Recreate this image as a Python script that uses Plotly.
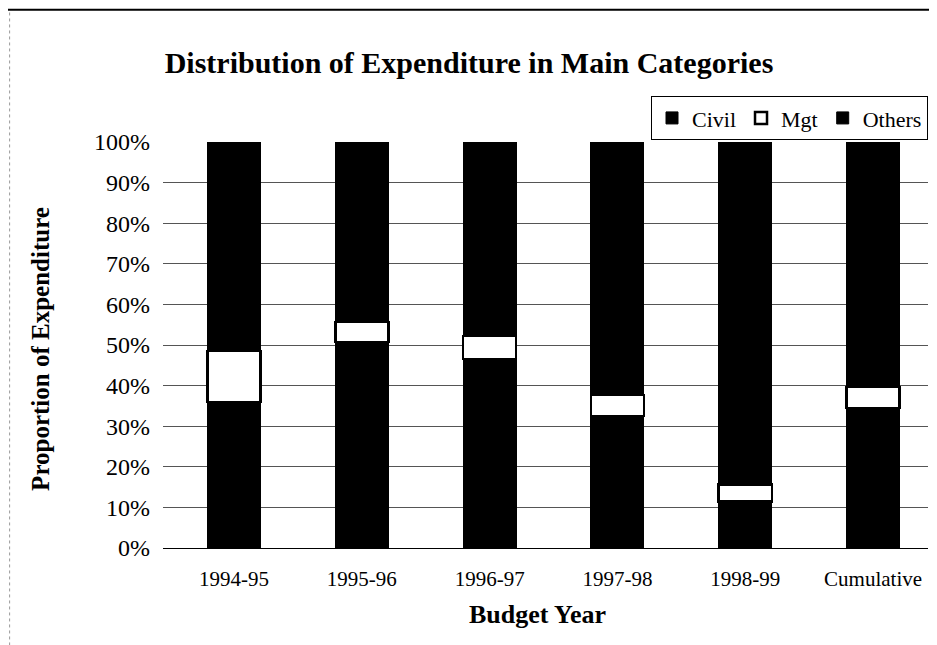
import plotly.graph_objects as go

categories = ["1994-95", "1995-96", "1996-97", "1997-98", "1998-99", "Cumulative"]
civil = [0.360, 0.507, 0.466, 0.325, 0.114, 0.345]
mgt = [0.125, 0.050, 0.056, 0.052, 0.043, 0.052]
others = [0.515, 0.443, 0.478, 0.623, 0.843, 0.603]
y_ticks = [0, 0.1, 0.2, 0.3, 0.4, 0.5, 0.6, 0.7, 0.8, 0.9, 1.0]
y_tick_labels = ["0%", "10%", "20%", "30%", "40%", "50%", "60%", "70%", "80%", "90%", "100%"]

serif = "Liberation Serif, Times New Roman, serif"

fig = go.Figure()
fig.add_trace(go.Bar(name="Civil", x=categories, y=civil, width=0.415,
                     marker=dict(color="black", line=dict(color="black", width=1))))
fig.add_trace(go.Bar(name="Mgt", x=categories, y=mgt, width=0.415,
                     marker=dict(color="white", line=dict(color="black", width=2.5))))
fig.add_trace(go.Bar(name="Others", x=categories, y=others, width=0.415,
                     marker=dict(color="black", line=dict(color="black", width=1))))

# page body has an 8px default margin, so margins are compensated
fig.update_layout(
    barmode="stack",
    width=937, height=645,
    paper_bgcolor="white", plot_bgcolor="white",
    margin=dict(l=155, r=17, t=134, b=105),
    title=dict(text="<b>Distribution of Expenditure in Main Categories</b>",
               font=dict(family=serif, size=30, color="black"),
               x=0.492, xref="container", xanchor="center", y=0.916, yref="container", yanchor="middle"),
    legend=dict(orientation="h", x=1.0, xanchor="right", y=1.113, yanchor="top",
                bordercolor="black", borderwidth=1, bgcolor="white",
                font=dict(family=serif, size=22, color="black"),
                itemwidth=30, traceorder="normal"),
    showlegend=True,
    font=dict(family=serif, color="black"),
    annotations=[
        dict(text="<b>Budget Year</b>", xref="paper", yref="paper", x=0.489, y=-0.163,
             xanchor="center", yanchor="middle", showarrow=False,
             font=dict(family=serif, size=26, color="black")),
        dict(text="<b>Proportion of Expenditure</b>", xref="paper", yref="paper", x=-0.161, y=0.49,
             xanchor="center", yanchor="middle", showarrow=False, textangle=-90,
             font=dict(family=serif, size=25, color="black")),
    ],
)
fig.update_xaxes(
    range=[-0.556, 5.43],
    showline=True, linecolor="black", linewidth=1,
    showgrid=False, ticks="",
    tickfont=dict(family=serif, size=21, color="black"),
    ticklabelstandoff=12,
)
fig.update_yaxes(
    range=[0, 1.0],
    tickvals=y_ticks, ticktext=y_tick_labels,
    showgrid=True, gridcolor="#555555", gridwidth=1,
    zeroline=False, showline=False, ticks="",
    tickfont=dict(family=serif, size=24, color="black"),
    ticklabelstandoff=12,
)
fig.add_shape(type="line", xref="paper", yref="paper", x0=-0.213, x1=1.012, y0=1.326, y1=1.326,
              line=dict(color="black", width=2))
fig.add_shape(type="line", xref="paper", yref="paper", x0=-0.2005, x1=-0.2005, y0=-0.24, y1=1.326,
              line=dict(color="#999999", width=1, dash="dot"))
fig.write_html("out.html")
